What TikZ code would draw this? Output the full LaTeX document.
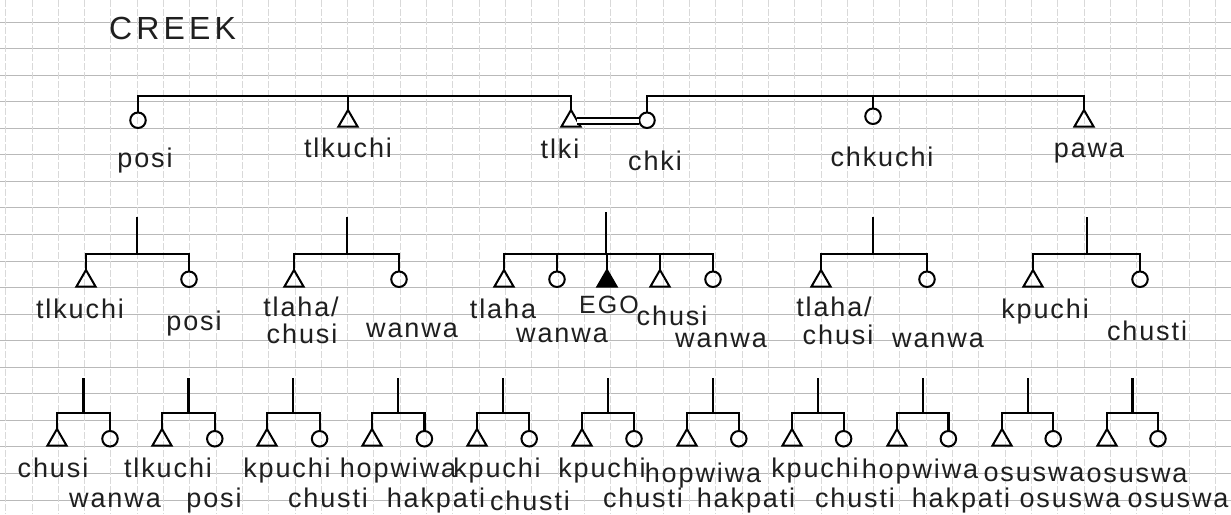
\documentclass[tikz,border=0pt]{standalone}
\usepackage{fontspec}
\setmainfont{Liberation Sans}
\newfontfamily\hwfont[LetterSpace=7]{Liberation Sans}
\newfontfamily\capfont[LetterSpace=13]{Liberation Sans}
\newfontfamily\egofont[LetterSpace=8]{Liberation Sans}
\usetikzlibrary{shapes.geometric}
\tikzset{
  ln/.style={line width=2.2pt, black},
  hgrid/.style={gray!55, line width=0.8pt},
  vgrid/.style={gray!30, line width=0.6pt, dash pattern=on 7pt off 2pt},
  male/.style={draw, line width=2pt, regular polygon, regular polygon sides=3,
    minimum size=22pt, inner sep=0pt, outer sep=0pt, anchor=south},
  female/.style={draw, circle, line width=2pt, minimum size=15.5pt,
    inner sep=0pt, outer sep=0pt, anchor=south},
  lbl/.style={font=\hwfont\fontsize{27}{30}\selectfont, anchor=base,
    inner sep=0pt, text=black!88},
}
\begin{document}
\begin{tikzpicture}[x=1pt,y=-1pt]
\useasboundingbox[fill=white] (0,0) rectangle (1231,514);
% graph paper
\foreach \k in {0,...,18} \draw[hgrid] (0,{22+26.55*\k}) -- (1231,{22+26.55*\k});
\foreach \k in {0,...,46} \draw[vgrid] ({5.5+26.3*\k},0) -- ({5.5+26.3*\k},514);

\node[font=\capfont\fontsize{32}{34}\selectfont, anchor=base west, inner sep=0pt, text=black!88] (title) at (109,39) {CREEK};

% ---------- top generation ----------
\coordinate (top) at (0,96);
\node[female] (posiT) at (138,128) {};
\node[male] (tlkuchiT) at (348,126.5) {};
\node[male] (tlkiT) at (571,126.5) {};
\node[female] (chkiT) at (647,128) {};
\node[female] (chkuchiT) at (873,124) {};
\node[male] (pawaT) at (1084,126.5) {};
\draw[ln] (posiT.north) -- (posiT.north |- top) -- (tlkiT.north |- top) -- (tlkiT.north);
\draw[ln] (tlkuchiT.north) -- (tlkuchiT.north |- top);
\draw[ln] (chkiT.north) -- (chkiT.north |- top) -- (pawaT.north |- top) -- (pawaT.north);
\draw[ln] (chkuchiT.north) -- (chkuchiT.north |- top);
\draw[line width=1.7pt, double distance=4.5pt] (tlkiT.east) -- (tlkiT.east -| chkiT.west);

\node[lbl] (l-posiT) at (145,167) {posi};
\node[lbl] (l-tlkuchiT) at (348,157) {tlkuchi};
\node[lbl] (l-tlkiT) at (560,158) {tlki};
\node[lbl] (l-chkiT) at (655,170) {chki};
\node[lbl] (l-chkuchiT) at (882,166) {chkuchi};
\node[lbl] (l-pawaT) at (1089,157) {pawa};

% ---------- middle generation ----------
\coordinate (mid) at (0,254);
% group 1
\coordinate (s1) at (137,217);
\node[male] (m1a) at (86,286.5) {};
\node[female] (m1b) at (189,287) {};
\draw[ln] (s1) -- (s1 |- mid);
\draw[ln] (m1a.north) -- (m1a.north |- mid) -- (m1b.north |- mid) -- (m1b.north);
% group 2
\coordinate (s2) at (347,217);
\node[male] (m2a) at (294,286.5) {};
\node[female] (m2b) at (399,287) {};
\draw[ln] (s2) -- (s2 |- mid);
\draw[ln] (m2a.north) -- (m2a.north |- mid) -- (m2b.north |- mid) -- (m2b.north);
% group 3 (EGO)
\coordinate (s3) at (606,212);
\node[male] (m3a) at (504,286.5) {};
\node[female] (m3b) at (557,287) {};
\node[male, fill=black] (ego) at (607,286.5) {};
\node[male] (m3d) at (660,286.5) {};
\node[female] (m3e) at (713,287) {};
\draw[ln] (s3) -- (s3 |- mid);
\draw[ln] (m3a.north) -- (m3a.north |- mid) -- (m3e.north |- mid) -- (m3e.north);
\draw[ln] (m3b.north) -- (m3b.north |- mid);
\draw[ln] (ego.north) -- (ego.north |- mid);
\draw[ln] (m3d.north) -- (m3d.north |- mid);
% group 4
\coordinate (s4) at (873,217);
\node[male] (m4a) at (821,286.5) {};
\node[female] (m4b) at (927,287) {};
\draw[ln] (s4) -- (s4 |- mid);
\draw[ln] (m4a.north) -- (m4a.north |- mid) -- (m4b.north |- mid) -- (m4b.north);
% group 5
\coordinate (s5) at (1087,217);
\node[male] (m5a) at (1033,286.5) {};
\node[female] (m5b) at (1140,287) {};
\draw[ln] (s5) -- (s5 |- mid);
\draw[ln] (m5a.north) -- (m5a.north |- mid) -- (m5b.north |- mid) -- (m5b.north);

\node[lbl] at (80,318) {tlkuchi};
\node[lbl] at (194,330) {posi};
\node[lbl] at (301,316) {tlaha/};
\node[lbl] at (302,343) {chusi};
\node[lbl] at (412,337) {wanwa};
\node[lbl] at (503,318) {tlaha};
\node[lbl] at (562,342) {wanwa};
\node[lbl, font=\egofont\fontsize{25}{28}\selectfont] (l-ego) at (609,313) {EGO};
\node[lbl] at (672,325) {chusi};
\node[lbl] at (721,347) {wanwa};
\node[lbl] at (834,316) {tlaha/};
\node[lbl] at (838,344) {chusi};
\node[lbl] at (938,347) {wanwa};
\node[lbl] at (1045,318) {kpuchi};
\node[lbl] at (1147,340) {chusti};

% ---------- bottom generation ----------
\coordinate (bot) at (0,413);
\foreach \i in {0,...,10} {
  \pgfmathsetmacro\tx{57+105*\i}
  \pgfmathsetmacro\cx{110+104.8*\i}
  \node[male] (bm\i) at (\tx,445.5) {};
  \node[female] (bf\i) at (\cx,446.5) {};
  \coordinate (bs\i) at ({(\tx+\cx)/2},378);
  \draw[ln] (bs\i) -- (bs\i |- bot);
  \draw[ln] (bm\i.north) -- (bm\i.north |- bot) -- (bf\i.north |- bot) -- (bf\i.north);
}
% row 1
\node[lbl] at (53,477) {chusi};
\node[lbl] at (168,477) {tlkuchi};
\node[lbl] at (287,477) {kpuchi};
\node[lbl] at (398,477) {hopwiwa};
\node[lbl] at (497,477) {kpuchi};
\node[lbl] at (602,477) {kpuchi};
\node[lbl] at (703,482) {hopwiwa};
\node[lbl] at (815,477) {kpuchi};
\node[lbl] at (920,478) {hopwiwa};
\node[lbl] at (1034,481) {osuswa};
\node[lbl] at (1137,482) {osuswa};
% row 2
\node[lbl] at (115,507) {wanwa};
\node[lbl] at (214,507) {posi};
\node[lbl] at (328,507) {chusti};
\node[lbl] at (436,507) {hakpati};
\node[lbl] at (530,510) {chusti};
\node[lbl] at (643,507) {chusti};
\node[lbl] at (746,507) {hakpati};
\node[lbl] at (855,507) {chusti};
\node[lbl] at (961,507) {hakpati};
\node[lbl] at (1070,507) {osuswa};
\node[lbl] at (1178,507) {osuswa};
\end{tikzpicture}
\end{document}
